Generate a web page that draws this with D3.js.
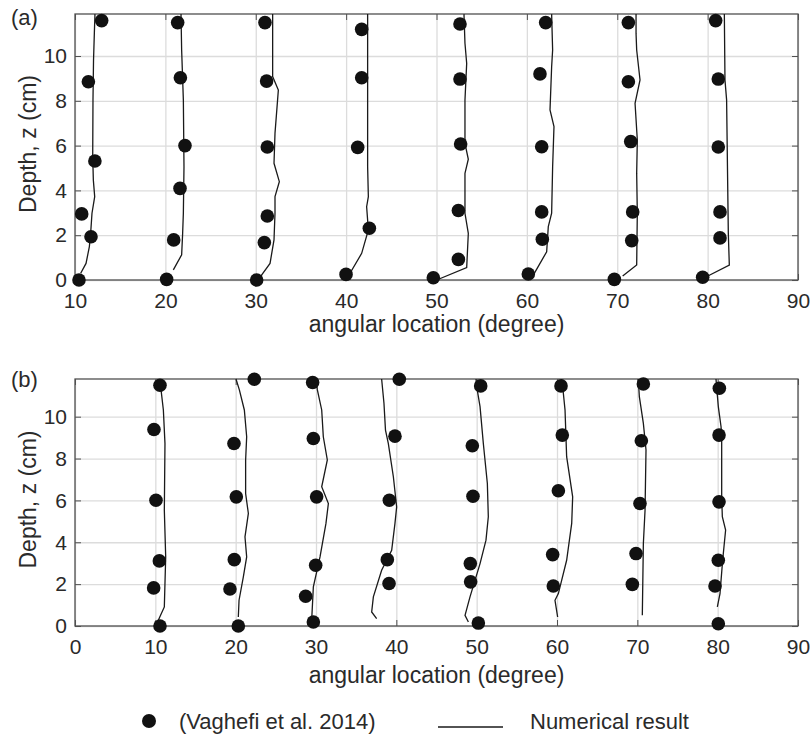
<!DOCTYPE html>
<html>
<head>
<meta charset="utf-8">
<script src="https://cdn.jsdelivr.net/npm/d3@7"></script>
<style>
  body { margin: 0; background: #fff; }
  svg text { font-family: "Liberation Sans", Arial, Helvetica, sans-serif; fill: #2a2a2a; }
</style>
</head>
<body>
<svg id="chart" width="812" height="734"></svg>
<script>
// ---- Panel (a): measured points [angle (deg), depth (cm)] ----
const a10Pts = [[12.95,11.58],[11.48,8.85],[12.2,5.31],[10.74,2.95],[11.77,1.93],[10.44,0]];
const a20Pts = [[21.36,11.49],[21.66,9.03],[22.17,6.0],[21.62,4.09],[20.92,1.79],[20.14,0.03]];
const a30Pts = [[31.02,11.49],[31.2,8.88],[31.28,5.94],[31.28,2.86],[30.95,1.67],[30.1,0]];
const a40Pts = [[41.72,11.19],[41.72,9.03],[41.28,5.92],[42.57,2.31],[39.99,0.25]];
const a50Pts = [[52.6,11.43],[52.6,8.97],[52.67,6.07],[52.42,3.1],[52.42,0.92],[49.65,0.1]];
const a60Pts = [[62.08,11.49],[61.45,9.2],[61.64,5.95],[61.64,3.04],[61.71,1.82],[60.16,0.27]];
const a70Pts = [[71.23,11.49],[71.23,8.85],[71.49,6.18],[71.71,3.04],[71.6,1.76],[69.68,0.03]];
const a80Pts = [[80.89,11.58],[81.18,8.97],[81.18,5.94],[81.37,3.04],[81.37,1.88],[79.45,0.12]];

// ---- Panel (a): numerical profiles ----
const a10Line = [[10.63,0.3],[11.22,0.74],[11.59,1.49],[11.73,2.08],[11.88,2.98],[12.18,3.72],[12.03,4.46],[11.96,5.51],[11.99,8.04],[12.05,9.82],[12.14,11.01],[12.21,11.87]];
const a20Line = [[20.88,0.45],[21.8,1.12],[21.91,2.08],[21.99,2.98],[22.06,5.06],[21.99,8.04],[21.8,10.27],[21.73,11.87]];
const a30Line = [[30.58,0.18],[31.58,0.74],[32.02,1.79],[32.13,2.98],[32.13,3.72],[32.61,4.39],[32.02,5.21],[32.13,6.55],[32.5,8.48],[31.87,9.08],[31.87,11.87]];
const a40Line = [[40.43,0.3],[41.72,1.19],[42.46,2.23],[42.27,3.27],[42.46,3.72],[42.38,5.06],[42.38,8.04],[42.38,11.87]];
const a50Line = [[50.02,0],[53.34,0.55],[53.52,2.08],[53.15,2.98],[53.15,4.76],[53.52,5.39],[53.15,6.1],[53.15,8.04],[53.34,9.67],[53.15,10.57],[53.04,11.87]];
const a60Line = [[60.71,0.22],[62.19,1.26],[62.37,2.38],[62.74,2.98],[62.85,5.06],[63.0,6.85],[62.56,7.59],[62.74,9.52],[62.85,10.27],[62.74,11.87]];
const a70Line = [[70.6,0.18],[72.15,0.67],[72.22,2.98],[72.15,4.76],[72.22,6.25],[71.97,7.89],[72.52,8.93],[72.15,10.27],[72.08,11.01],[72.08,11.87]];
const a80Line = [[80.08,0.19],[82.4,0.67],[82.29,2.08],[82.1,8.04],[81.92,8.93],[81.85,11.87]];

// ---- Panel (b): measured points ----
const b10Pts = [[10.58,11.5],[9.83,9.39],[10.08,6.01],[10.5,3.11],[9.79,1.82],[10.58,0]];
const b20Pts = [[22.32,11.79],[19.79,8.72],[20.08,6.17],[19.83,3.17],[19.29,1.77],[20.33,0]];
const b30Pts = [[29.58,11.63],[29.67,8.96],[30.08,6.17],[29.96,2.9],[28.71,1.42],[29.67,0.19]];
const b40Pts = [[40.37,11.79],[39.83,9.07],[39.13,6.01],[38.88,3.17],[39.09,2.03]];
const b50Pts = [[50.5,11.47],[49.46,8.61],[49.54,6.2],[49.21,2.98],[49.25,2.11],[50.21,0.14]];
const b60Pts = [[60.5,11.47],[60.66,9.12],[60.17,6.46],[59.46,3.41],[59.54,1.91]];
const b70Pts = [[70.75,11.56],[70.5,8.85],[70.33,5.85],[69.84,3.46],[69.38,1.99]];
const b80Pts = [[80.21,11.36],[80.17,9.12],[80.17,5.93],[80.08,3.14],[79.67,1.91],[80.08,0.11]];

// ---- Panel (b): numerical profiles ----
const b10Line = [[10.37,0.27],[11.12,0.91],[11.29,3.3],[11.12,5.53],[11.2,8.72],[11.0,10.32],[10.71,11.28],[10.5,11.8]];
const b20Line = [[20.33,0.43],[20.42,1.23],[20.95,2.34],[21.37,3.3],[21.16,4.26],[21.58,5.38],[21.24,6.33],[21.24,7.93],[21.37,9.04],[21.08,10.32],[20.46,11.28],[20.04,11.8]];
const b30Line = [[29.46,0.27],[29.67,1.87],[30.5,3.3],[31.24,4.9],[31.54,5.85],[30.71,6.65],[31.41,7.93],[30.91,9.04],[30.71,10.32],[30.17,11.28],[30.0,11.8]];
const b40Line = [[37.55,0.35],[36.93,0.67],[37.14,1.39],[38.17,2.66],[39.42,3.62],[39.83,4.9],[40.04,5.69],[39.63,7.13],[39.0,8.72],[38.65,9.36],[38.46,10.64],[38.17,11.8]];
const b50Line = [[48.97,0.19],[48.55,0.51],[49.17,1.39],[50.42,2.98],[51.16,4.1],[51.45,5.22],[51.33,6.81],[50.83,8.72],[50.42,10.48],[50.0,11.44],[49.92,11.8]];
const b60Line = [[60.08,0.43],[59.75,1.23],[60.17,1.55],[61.2,3.14],[61.83,4.9],[61.95,6.17],[61.2,8.09],[61.0,10.32],[60.79,11.12],[60.58,11.8]];
const b70Line = [[70.62,0.51],[70.75,3.94],[70.96,5.53],[71.08,8.41],[70.75,9.68],[70.25,10.96],[70.12,11.8]];
const b80Line = [[79.96,0.91],[80.29,1.55],[80.62,3.14],[80.99,4.58],[80.58,5.22],[80.5,6.17],[80.5,9.04],[80.42,9.52],[80.08,10.48],[79.79,11.8]];

// ---- Tick values and labels ----
const xTicksA = [10, 20, 30, 40, 50, 60, 70, 80, 90];
const xTicksB = [0, 10, 20, 30, 40, 50, 60, 70, 80, 90];
const yTicks = [0, 2, 4, 6, 8, 10];
const xTitle = "angular location (degree)";
const yTitle = "Depth, z (cm)";
const legendPts = "(Vaghefi et al. 2014)";
const legendLine = "Numerical result";

const panels = [
  { tag: "(a)", xDomain: [10, 90], yDomain: [0, 11.875], xTicks: xTicksA,
    box: { left: 75, right: 798, top: 14, bottom: 280 }, tagY: 17, titleY: 332,
    points: [a10Pts, a20Pts, a30Pts, a40Pts, a50Pts, a60Pts, a70Pts, a80Pts],
    lines: [a10Line, a20Line, a30Line, a40Line, a50Line, a60Line, a70Line, a80Line] },
  { tag: "(b)", xDomain: [0, 90], yDomain: [0, 11.8], xTicks: xTicksB,
    box: { left: 75, right: 798, top: 379, bottom: 626 }, tagY: 379, titleY: 683,
    points: [b10Pts, b20Pts, b30Pts, b40Pts, b50Pts, b60Pts, b70Pts, b80Pts],
    lines: [b10Line, b20Line, b30Line, b40Line, b50Line, b60Line, b70Line, b80Line] }
];

const svg = d3.select("#chart");
svg.append("rect").attr("width", 812).attr("height", 734).attr("fill", "#fff");

const gridColor = "#dcdcdc";
const frameColor = "#505050";
const markColor = "#111";

panels.forEach(p => {
  const b = p.box;
  const w = b.right - b.left, h = b.bottom - b.top;
  const x = d3.scaleLinear().domain(p.xDomain).range([b.left, b.right]);
  const y = d3.scaleLinear().domain(p.yDomain).range([b.bottom, b.top]);
  const g = svg.append("g");

  // grid lines
  g.append("g").attr("transform", `translate(0,${b.bottom})`)
    .call(d3.axisBottom(x).tickValues(p.xTicks).tickSize(-h).tickFormat(""))
    .call(s => s.select(".domain").remove())
    .call(s => s.selectAll("line").attr("stroke", gridColor).attr("stroke-width", 1.3));
  g.append("g").attr("transform", `translate(${b.left},0)`)
    .call(d3.axisLeft(y).tickValues(yTicks).tickSize(-w).tickFormat(""))
    .call(s => s.select(".domain").remove())
    .call(s => s.selectAll("line").attr("stroke", gridColor).attr("stroke-width", 1.3));

  // inward tick marks on all four sides
  const tl = 6;
  g.append("g").attr("transform", `translate(0,${b.bottom})`)
    .call(d3.axisTop(x).tickValues(p.xTicks).tickSize(tl).tickFormat(""))
    .call(s => s.select(".domain").remove())
    .call(s => s.selectAll("line").attr("stroke", frameColor));
  g.append("g").attr("transform", `translate(0,${b.top})`)
    .call(d3.axisBottom(x).tickValues(p.xTicks).tickSize(tl).tickFormat(""))
    .call(s => s.select(".domain").remove())
    .call(s => s.selectAll("line").attr("stroke", frameColor));
  g.append("g").attr("transform", `translate(${b.left},0)`)
    .call(d3.axisRight(y).tickValues(yTicks).tickSize(tl).tickFormat(""))
    .call(s => s.select(".domain").remove())
    .call(s => s.selectAll("line").attr("stroke", frameColor));
  g.append("g").attr("transform", `translate(${b.right},0)`)
    .call(d3.axisLeft(y).tickValues(yTicks).tickSize(tl).tickFormat(""))
    .call(s => s.select(".domain").remove())
    .call(s => s.selectAll("line").attr("stroke", frameColor));

  // frame
  g.append("rect").attr("x", b.left).attr("y", b.top).attr("width", w).attr("height", h)
    .attr("fill", "none").attr("stroke", frameColor).attr("stroke-width", 1.3);

  // tick labels
  g.append("g").attr("transform", `translate(0,${b.bottom})`)
    .call(d3.axisBottom(x).tickValues(p.xTicks).tickSize(0).tickPadding(13).tickFormat(d3.format("d")))
    .call(s => s.select(".domain").remove())
    .call(s => s.selectAll("text").attr("font-size", 21).attr("font-family", null).style("fill", "#2a2a2a"));
  g.append("g").attr("transform", `translate(${b.left},0)`)
    .call(d3.axisLeft(y).tickValues(yTicks).tickSize(0).tickPadding(8).tickFormat(d3.format("d")))
    .call(s => s.select(".domain").remove())
    .call(s => s.selectAll("text").attr("font-size", 21).attr("font-family", null).style("fill", "#2a2a2a"));

  // numerical profiles
  const line = d3.line().x(d => x(d[0])).y(d => y(d[1]));
  g.append("g").selectAll("path").data(p.lines).join("path")
    .attr("d", line).attr("fill", "none").attr("stroke", "#1a1a1a").attr("stroke-width", 1.3);

  // measured points
  g.append("g").selectAll("circle").data(p.points.flat()).join("circle")
    .attr("cx", d => x(d[0])).attr("cy", d => y(d[1])).attr("r", 6.8).attr("fill", markColor);

  // titles
  svg.append("text").attr("x", (b.left + b.right) / 2).attr("y", p.titleY)
    .attr("text-anchor", "middle").attr("font-size", 23).text(xTitle);
  svg.append("text")
    .attr("transform", `translate(28,${(b.top + b.bottom) / 2 - 3}) rotate(-90)`)
    .attr("text-anchor", "middle").attr("dominant-baseline", "central")
    .attr("font-size", 23).text(yTitle);
  svg.append("text").attr("x", 11).attr("y", p.tagY)
    .attr("dominant-baseline", "central").attr("font-size", 22).text(p.tag);
});

// legend
const lg = svg.append("g");
lg.append("circle").attr("cx", 149).attr("cy", 721).attr("r", 7).attr("fill", markColor);
lg.append("text").attr("x", 179).attr("y", 729).attr("font-size", 22).text(legendPts);
lg.append("line").attr("x1", 438).attr("x2", 503).attr("y1", 727).attr("y2", 727)
  .attr("stroke", "#1a1a1a").attr("stroke-width", 1.6);
lg.append("text").attr("x", 530).attr("y", 729).attr("font-size", 22).text(legendLine);
</script>
</body>
</html>
